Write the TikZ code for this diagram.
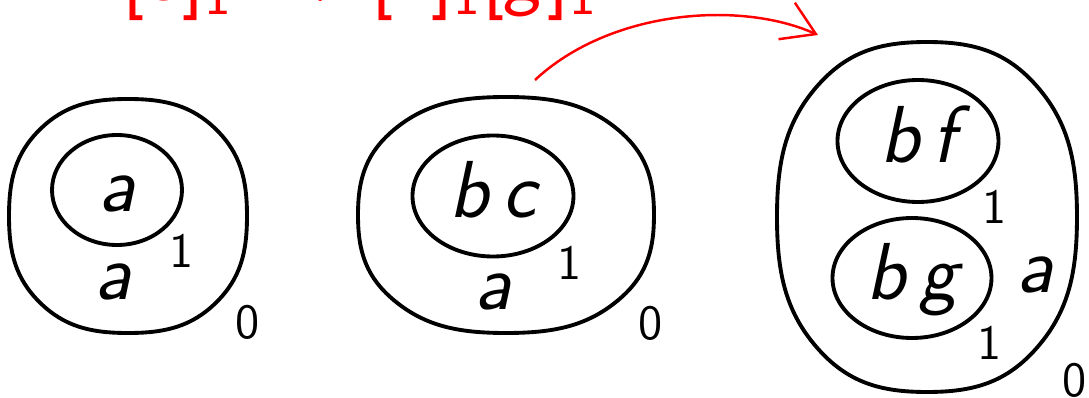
\documentclass[tikz,border=0pt]{standalone}
\usepackage{tikz}
\usetikzlibrary{arrows.meta,shapes.geometric}
\definecolor{cred}{RGB}{255,0,0}
\newcommand{\blob}[4]{%
  \draw[blobline] plot[smooth cycle,tension=0.75] coordinates {
    ({#1+#3},{#2}) ({#1+0.74*#3},{#2+0.74*#4}) ({#1},{#2+#4})
    ({#1-0.74*#3},{#2+0.74*#4}) ({#1-#3},{#2}) ({#1-0.74*#3},{#2-0.74*#4})
    ({#1},{#2-#4}) ({#1+0.74*#3},{#2-0.74*#4})};}

\begin{document}
\begin{tikzpicture}[
  x=0.1mm,y=-0.1mm,
  blobline/.style={line width=1.1pt},
  inbubble/.style={draw,ellipse,line width=1.1pt,inner sep=0pt,
    font=\fontsize{23}{26}\selectfont\sffamily\slshape,text height=16pt,text depth=4pt},
  lbl/.style={font=\fontsize{23}{26}\selectfont\sffamily\slshape,inner sep=0pt},
  num/.style={font=\fontsize{14}{16}\selectfont\sffamily,inner sep=0pt},
  rulearrow/.style={cred,line width=0.7pt,-{Straight Barb[length=3.2mm,width=4mm]}},
]
\clip (0,0) rectangle (1089,398);

% ===== rule =====
\node[cred,font=\fontsize{23}{26}\selectfont\sffamily,anchor=base west,inner sep=0pt]
  (rule) at (122,1) {[\textsl{c}]\textsubscript{1} $\mapsto$ [\textsl{f}]\textsubscript{1}[\textsl{g}]\textsubscript{1}};

% ===== LEFT =====
\blob{128}{216}{119}{117}
\node[inbubble,minimum width=13mm,minimum height=11mm] (ina) at (117,190) {a};
\node[num] (lone) at (182,251) {1};
\node[lbl] (la) at (113,282) {a};
\node[num] (lzero) at (248,322) {0};

% ===== MIDDLE =====
\blob{506}{215}{148}{118}
\node[inbubble,minimum width=16.1mm,minimum height=12.1mm] (inbc) at (493,196) {b\,c};
\node[num] (mone) at (570,263) {1};
\node[lbl] (ma) at (493,292) {a};
\node[num] (mzero) at (651,323) {0};

% ===== RIGHT =====
\blob{927}{217}{150}{175}
\node[inbubble,minimum width=16.1mm,minimum height=12.2mm] (inbf) at (918,141) {b\,f};
\node[num] (rone) at (995,207) {1};
\node[inbubble,minimum width=15.9mm,minimum height=12mm] (inbg) at (912,278) {b\,g};
\node[num] (rtwo) at (990,343) {1};
\node[lbl] (ra) at (1035,275) {a};
\node[num] (rzero) at (1075,380) {0};

% ===== arrow =====
\coordinate (rulefrom) at (535,80);
\coordinate (ruleto) at (818,35);
\draw[rulearrow] (rulefrom) .. controls (610,10) and (740,0) .. (ruleto);

\end{tikzpicture}
\end{document}
